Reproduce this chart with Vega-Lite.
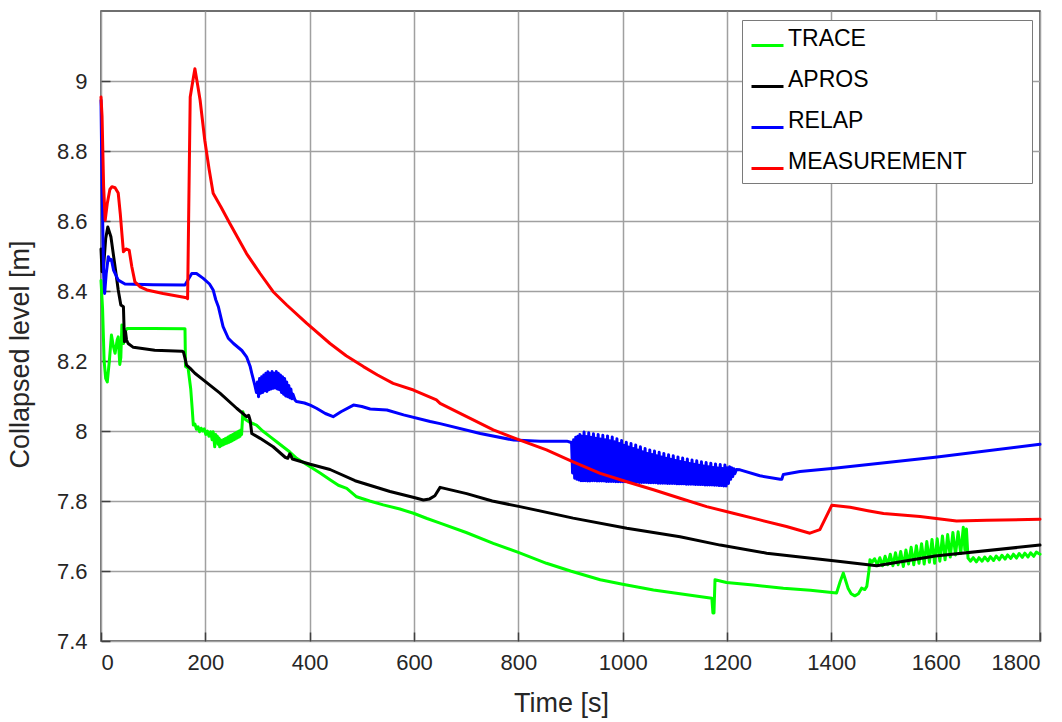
{
"$schema": "https://vega.github.io/schema/vega-lite/v6.json",
"width": 939, "height": 630,
"autosize": {"type": "none"},
"padding": {"left": 101, "top": 11, "right": 22, "bottom": 81},
"background": "white",
"config": {"font": "Liberation Sans", "view": {"stroke": "#404040", "strokeWidth": 1.5}},
"datasets": {
"trace": [
{"t":0,"v":8.43},{"t":3,"v":8.35},{"t":6,"v":8.2},{"t":9,"v":8.15},{"t":12,"v":8.14},{"t":16,"v":8.2},{"t":20,"v":8.274},{"t":24,"v":8.24},{"t":27,"v":8.222},{"t":31,"v":8.26},{"t":33,"v":8.269},{"t":36,"v":8.19},{"t":38,"v":8.21},{"t":40,"v":8.303},{"t":43,"v":8.25},{"t":46,"v":8.284},{"t":50,"v":8.293},{"t":100,"v":8.293},{"t":161,"v":8.292},{"t":162,"v":8.184},{"t":167,"v":8.179},{"t":172,"v":8.12},{"t":175,"v":8.06},{"t":177,"v":8.017},{"t":180,"v":8.02},{"t":183,"v":8.005},{"t":186,"v":8.012},{"t":189,"v":7.998},{"t":192,"v":8.008},{"t":195,"v":8.0},{"t":198,"v":8.006},{"t":201,"v":7.99},{"t":204,"v":8.0},{"t":207,"v":7.985},{"t":210,"v":7.998},{"t":213,"v":7.975},{"t":215,"v":7.998},{"t":218,"v":7.955},{"t":220,"v":7.99},{"t":221.5,"v":7.97},{"t":223,"v":7.985},{"t":224.5,"v":7.962},{"t":226,"v":7.98},{"t":227.5,"v":7.955},{"t":229,"v":7.975},{"t":230.5,"v":7.958},{"t":232,"v":7.972},{"t":233.5,"v":7.96},{"t":235,"v":7.976},{"t":236.5,"v":7.962},{"t":238,"v":7.978},{"t":239.5,"v":7.964},{"t":241,"v":7.98},{"t":242.5,"v":7.966},{"t":244,"v":7.983},{"t":245.5,"v":7.968},{"t":247,"v":7.986},{"t":248.5,"v":7.97},{"t":250,"v":7.988},{"t":251.5,"v":7.972},{"t":253,"v":7.99},{"t":254.5,"v":7.975},{"t":256,"v":7.993},{"t":257.5,"v":7.977},{"t":259,"v":7.995},{"t":260.5,"v":7.98},{"t":262,"v":7.998},{"t":263.5,"v":7.982},{"t":265,"v":8.0},{"t":266.5,"v":7.985},{"t":268,"v":8.003},{"t":269.5,"v":7.99},{"t":272,"v":8.055},{"t":275,"v":8.035},{"t":279,"v":8.031},{"t":285,"v":8.025},{"t":298,"v":8.017},{"t":310,"v":8.0},{"t":324,"v":7.984},{"t":336,"v":7.97},{"t":349,"v":7.955},{"t":362,"v":7.94},{"t":375,"v":7.922},{"t":388,"v":7.91},{"t":401,"v":7.898},{"t":420,"v":7.88},{"t":439,"v":7.861},{"t":455,"v":7.845},{"t":471,"v":7.836},{"t":490,"v":7.812},{"t":515,"v":7.8},{"t":541,"v":7.789},{"t":573,"v":7.777},{"t":599,"v":7.765},{"t":625,"v":7.75},{"t":650,"v":7.737},{"t":700,"v":7.71},{"t":752,"v":7.679},{"t":800,"v":7.653},{"t":854,"v":7.622},{"t":900,"v":7.6},{"t":957,"v":7.575},{"t":1000,"v":7.562},{"t":1059,"v":7.546},{"t":1120,"v":7.533},{"t":1171,"v":7.522},{"t":1173,"v":7.48},{"t":1175,"v":7.48},{"t":1177,"v":7.575},{"t":1199,"v":7.567},{"t":1250,"v":7.56},{"t":1308,"v":7.551},{"t":1360,"v":7.545},{"t":1410,"v":7.537},{"t":1417,"v":7.57},{"t":1423,"v":7.594},{"t":1428,"v":7.57},{"t":1432,"v":7.551},{"t":1438,"v":7.535},{"t":1445,"v":7.529},{"t":1452,"v":7.535},{"t":1458,"v":7.551},{"t":1464,"v":7.547},{"t":1468,"v":7.556},{"t":1472,"v":7.6},{"t":1474,"v":7.632},{"t":1478,"v":7.625},{"t":1483,"v":7.635},{"t":1488,"v":7.618},{"t":1493,"v":7.638},{"t":1498,"v":7.615},{"t":1503,"v":7.642},{"t":1508,"v":7.618},{"t":1513,"v":7.648},{"t":1518,"v":7.615},{"t":1523,"v":7.652},{"t":1528,"v":7.618},{"t":1533,"v":7.656},{"t":1538,"v":7.613},{"t":1543,"v":7.66},{"t":1548,"v":7.62},{"t":1553,"v":7.668},{"t":1558,"v":7.618},{"t":1563,"v":7.672},{"t":1568,"v":7.622},{"t":1573,"v":7.678},{"t":1578,"v":7.62},{"t":1583,"v":7.684},{"t":1588,"v":7.625},{"t":1593,"v":7.69},{"t":1598,"v":7.622},{"t":1603,"v":7.692},{"t":1608,"v":7.628},{"t":1613,"v":7.7},{"t":1618,"v":7.632},{"t":1623,"v":7.704},{"t":1628,"v":7.64},{"t":1633,"v":7.71},{"t":1638,"v":7.646},{"t":1643,"v":7.712},{"t":1648,"v":7.65},{"t":1653,"v":7.725},{"t":1656,"v":7.66},{"t":1659,"v":7.72},{"t":1662,"v":7.637},{"t":1667,"v":7.628},{"t":1672,"v":7.638},{"t":1678,"v":7.626},{"t":1683,"v":7.638},{"t":1689,"v":7.628},{"t":1694,"v":7.64},{"t":1700,"v":7.629},{"t":1705,"v":7.641},{"t":1711,"v":7.63},{"t":1716,"v":7.643},{"t":1722,"v":7.632},{"t":1727,"v":7.645},{"t":1733,"v":7.634},{"t":1738,"v":7.646},{"t":1744,"v":7.636},{"t":1749,"v":7.648},{"t":1755,"v":7.637},{"t":1760,"v":7.65},{"t":1766,"v":7.639},{"t":1771,"v":7.651},{"t":1777,"v":7.64},{"t":1782,"v":7.652},{"t":1788,"v":7.642},{"t":1793,"v":7.654},{"t":1800,"v":7.648}
],
"apros": [
{"t":0,"v":8.52},{"t":2,"v":8.455},{"t":5,"v":8.47},{"t":9,"v":8.55},{"t":13,"v":8.583},{"t":19,"v":8.555},{"t":27,"v":8.469},{"t":33,"v":8.403},{"t":38,"v":8.36},{"t":43,"v":8.355},{"t":45,"v":8.255},{"t":47,"v":8.284},{"t":49,"v":8.26},{"t":52,"v":8.25},{"t":62,"v":8.239},{"t":103,"v":8.231},{"t":155,"v":8.228},{"t":158,"v":8.226},{"t":161,"v":8.208},{"t":164,"v":8.188},{"t":171,"v":8.179},{"t":180,"v":8.165},{"t":196,"v":8.146},{"t":228,"v":8.108},{"t":260,"v":8.065},{"t":279,"v":8.041},{"t":283,"v":8.045},{"t":286,"v":8.03},{"t":289,"v":7.993},{"t":305,"v":7.979},{"t":330,"v":7.955},{"t":353,"v":7.925},{"t":358,"v":7.922},{"t":362,"v":7.935},{"t":367,"v":7.92},{"t":401,"v":7.905},{"t":439,"v":7.89},{"t":487,"v":7.858},{"t":554,"v":7.827},{"t":600,"v":7.81},{"t":618,"v":7.803},{"t":630,"v":7.806},{"t":640,"v":7.815},{"t":650,"v":7.839},{"t":701,"v":7.821},{"t":750,"v":7.8},{"t":803,"v":7.784},{"t":905,"v":7.751},{"t":1008,"v":7.722},{"t":1110,"v":7.698},{"t":1187,"v":7.674},{"t":1276,"v":7.651},{"t":1417,"v":7.627},{"t":1487,"v":7.615},{"t":1599,"v":7.643},{"t":1800,"v":7.674}
],
"relap": [
{"t":0,"v":8.945},{"t":2,"v":8.7},{"t":5,"v":8.45},{"t":7,"v":8.393},{"t":10,"v":8.45},{"t":14,"v":8.498},{"t":17,"v":8.488},{"t":20,"v":8.49},{"t":24,"v":8.46},{"t":33,"v":8.431},{"t":46,"v":8.42},{"t":100,"v":8.418},{"t":161,"v":8.417},{"t":168,"v":8.435},{"t":174,"v":8.45},{"t":183,"v":8.45},{"t":196,"v":8.436},{"t":208,"v":8.42},{"t":215,"v":8.403},{"t":220,"v":8.375},{"t":225,"v":8.355},{"t":234,"v":8.298},{"t":244,"v":8.265},{"t":254,"v":8.25},{"t":270,"v":8.23},{"t":279,"v":8.212},{"t":286,"v":8.184},{"t":289,"v":8.165},{"t":295,"v":8.13},{"t":298,"v":8.11},{"t":300,"v":8.14},{"t":302,"v":8.098},{"t":304,"v":8.15},{"t":306,"v":8.108},{"t":308,"v":8.155},{"t":310,"v":8.11},{"t":312,"v":8.16},{"t":314,"v":8.115},{"t":316,"v":8.165},{"t":318,"v":8.113},{"t":320,"v":8.169},{"t":322,"v":8.118},{"t":324,"v":8.165},{"t":326,"v":8.12},{"t":328,"v":8.17},{"t":330,"v":8.122},{"t":332,"v":8.165},{"t":334,"v":8.123},{"t":336,"v":8.17},{"t":338,"v":8.12},{"t":340,"v":8.165},{"t":342,"v":8.118},{"t":344,"v":8.16},{"t":346,"v":8.11},{"t":348,"v":8.155},{"t":350,"v":8.105},{"t":352,"v":8.15},{"t":354,"v":8.1},{"t":356,"v":8.14},{"t":358,"v":8.098},{"t":360,"v":8.13},{"t":362,"v":8.095},{"t":364,"v":8.12},{"t":366,"v":8.092},{"t":368,"v":8.105},{"t":372,"v":8.088},{"t":375,"v":8.084},{"t":390,"v":8.08},{"t":401,"v":8.074},{"t":413,"v":8.065},{"t":430,"v":8.05},{"t":445,"v":8.041},{"t":460,"v":8.055},{"t":484,"v":8.074},{"t":500,"v":8.07},{"t":516,"v":8.063},{"t":548,"v":8.06},{"t":580,"v":8.046},{"t":631,"v":8.027},{"t":650,"v":8.021},{"t":727,"v":7.993},{"t":791,"v":7.974},{"t":842,"v":7.971},{"t":893,"v":7.971},{"t":900,"v":7.968},
{"t":902,"v":7.968},{"t":904,"v":7.88},{"t":906,"v":7.975},{"t":908,"v":7.865},{"t":910,"v":7.982},{"t":912,"v":7.862},{"t":914,"v":7.985},{"t":916,"v":7.86},{"t":918,"v":7.99},{"t":920,"v":7.858},{"t":922,"v":7.985},{"t":924,"v":7.858},
{"t":926,"v":7.997},{"t":928.2,"v":7.858},{"t":930.5,"v":7.984},{"t":932.8,"v":7.857},
{"t":935,"v":7.995},{"t":937.2,"v":7.857},{"t":939.5,"v":7.982},{"t":941.8,"v":7.858},
{"t":944,"v":7.992},{"t":946.2,"v":7.858},{"t":948.5,"v":7.979},{"t":950.8,"v":7.857},
{"t":953,"v":7.99},{"t":955.2,"v":7.857},{"t":957.5,"v":7.977},{"t":959.8,"v":7.857},
{"t":962,"v":7.988},{"t":964.2,"v":7.857},{"t":966.5,"v":7.975},{"t":968.8,"v":7.856},
{"t":971,"v":7.986},{"t":973.2,"v":7.856},{"t":975.5,"v":7.972},{"t":977.8,"v":7.856},
{"t":980,"v":7.983},{"t":982.2,"v":7.856},{"t":984.5,"v":7.969},{"t":986.8,"v":7.855},
{"t":989,"v":7.978},{"t":991.2,"v":7.855},{"t":993.5,"v":7.964},{"t":995.8,"v":7.855},
{"t":998,"v":7.973},{"t":1000.2,"v":7.855},{"t":1002.5,"v":7.959},{"t":1004.8,"v":7.855},
{"t":1007,"v":7.968},{"t":1009.2,"v":7.855},{"t":1011.5,"v":7.954},{"t":1013.8,"v":7.854},
{"t":1016,"v":7.964},{"t":1018.2,"v":7.854},{"t":1020.5,"v":7.95},{"t":1022.8,"v":7.854},
{"t":1025,"v":7.96},{"t":1027.2,"v":7.854},{"t":1029.5,"v":7.946},{"t":1031.8,"v":7.853},
{"t":1034,"v":7.955},{"t":1036.2,"v":7.853},{"t":1038.5,"v":7.941},{"t":1040.8,"v":7.853},
{"t":1043,"v":7.95},{"t":1045.2,"v":7.853},{"t":1047.5,"v":7.936},{"t":1049.8,"v":7.852},
{"t":1052,"v":7.946},{"t":1054.2,"v":7.852},{"t":1056.5,"v":7.933},{"t":1058.8,"v":7.852},
{"t":1061,"v":7.943},{"t":1063.2,"v":7.852},{"t":1065.5,"v":7.929},{"t":1067.8,"v":7.851},
{"t":1070,"v":7.939},{"t":1072.2,"v":7.851},{"t":1074.5,"v":7.926},{"t":1076.8,"v":7.851},
{"t":1079,"v":7.936},{"t":1081.2,"v":7.851},{"t":1083.5,"v":7.922},{"t":1085.8,"v":7.85},
{"t":1088,"v":7.932},{"t":1090.2,"v":7.85},{"t":1092.5,"v":7.919},{"t":1094.8,"v":7.85},
{"t":1097,"v":7.929},{"t":1099.2,"v":7.85},{"t":1101.5,"v":7.916},{"t":1103.8,"v":7.849},
{"t":1106,"v":7.926},{"t":1108.2,"v":7.849},{"t":1110.5,"v":7.913},{"t":1112.8,"v":7.849},
{"t":1115,"v":7.923},{"t":1117.2,"v":7.849},{"t":1119.5,"v":7.91},{"t":1121.8,"v":7.848},
{"t":1124,"v":7.92},{"t":1126.2,"v":7.848},{"t":1128.5,"v":7.907},{"t":1130.8,"v":7.848},
{"t":1133,"v":7.917},{"t":1135.2,"v":7.848},{"t":1137.5,"v":7.905},{"t":1139.8,"v":7.847},
{"t":1142,"v":7.915},{"t":1144.2,"v":7.847},{"t":1146.5,"v":7.902},{"t":1148.8,"v":7.847},
{"t":1151,"v":7.912},{"t":1153.2,"v":7.847},{"t":1155.5,"v":7.9},{"t":1157.8,"v":7.846},
{"t":1160,"v":7.91},{"t":1162.2,"v":7.846},{"t":1164.5,"v":7.898},{"t":1166.8,"v":7.846},
{"t":1169,"v":7.908},{"t":1171.2,"v":7.846},{"t":1173.5,"v":7.896},{"t":1175.8,"v":7.845},
{"t":1178,"v":7.906},{"t":1180.2,"v":7.845},{"t":1182.5,"v":7.894},{"t":1184.8,"v":7.844},
{"t":1187,"v":7.904},{"t":1189.2,"v":7.844},{"t":1191.5,"v":7.893},{"t":1193.8,"v":7.843},
{"t":1196,"v":7.903},{"t":1198.2,"v":7.843},{"t":1200.5,"v":7.895},{"t":1202.8,"v":7.85},
{"t":1205,"v":7.898},{"t":1207,"v":7.862},{"t":1209,"v":7.895},{"t":1211,"v":7.87},{"t":1213,"v":7.892},{"t":1215,"v":7.878},{"t":1218,"v":7.89},{"t":1225,"v":7.889},{"t":1263,"v":7.872},{"t":1302,"v":7.862},{"t":1305,"v":7.862},{"t":1308,"v":7.876},{"t":1340,"v":7.884},{"t":1401,"v":7.893},{"t":1599,"v":7.925},{"t":1800,"v":7.962}
],
"meas": [
{"t":0,"v":8.954},{"t":2,"v":8.9},{"t":5,"v":8.7},{"t":8,"v":8.602},{"t":12,"v":8.65},{"t":17,"v":8.69},{"t":21,"v":8.698},{"t":27,"v":8.695},{"t":33,"v":8.68},{"t":37,"v":8.62},{"t":40,"v":8.565},{"t":43,"v":8.512},{"t":48,"v":8.52},{"t":54,"v":8.517},{"t":59,"v":8.47},{"t":65,"v":8.426},{"t":75,"v":8.412},{"t":88,"v":8.403},{"t":119,"v":8.393},{"t":164,"v":8.381},{"t":166,"v":8.378},{"t":171,"v":8.954},{"t":176,"v":9.0},{"t":180,"v":9.035},{"t":184,"v":9.0},{"t":190,"v":8.945},{"t":199,"v":8.83},{"t":207,"v":8.75},{"t":215,"v":8.679},{"t":230,"v":8.64},{"t":247,"v":8.593},{"t":263,"v":8.55},{"t":279,"v":8.507},{"t":305,"v":8.45},{"t":330,"v":8.398},{"t":356,"v":8.36},{"t":394,"v":8.308},{"t":439,"v":8.25},{"t":470,"v":8.215},{"t":503,"v":8.184},{"t":530,"v":8.16},{"t":560,"v":8.136},{"t":599,"v":8.117},{"t":643,"v":8.089},{"t":650,"v":8.079},{"t":701,"v":8.041},{"t":752,"v":8.003},{"t":803,"v":7.974},{"t":854,"v":7.946},{"t":905,"v":7.912},{"t":957,"v":7.879},{"t":1008,"v":7.855},{"t":1059,"v":7.832},{"t":1110,"v":7.808},{"t":1161,"v":7.784},{"t":1212,"v":7.765},{"t":1263,"v":7.746},{"t":1314,"v":7.727},{"t":1359,"v":7.708},{"t":1378,"v":7.718},{"t":1401,"v":7.788},{"t":1436,"v":7.782},{"t":1470,"v":7.772},{"t":1500,"v":7.764},{"t":1570,"v":7.756},{"t":1640,"v":7.743},{"t":1698,"v":7.745},{"t":1800,"v":7.748}
]
},
"encoding": {
"x": {"field": "t", "type": "quantitative", "scale": {"domain": [0, 1800], "nice": false, "zero": false},
 "axis": {"title": "Time [s]", "values": [0,200,400,600,800,1000,1200,1400,1600,1800], "format": "d", "domain": false, "grid": true, "gridColor": "#a0a0a0", "gridWidth": 1.5, "tickColor": "#404040", "tickWidth": 1.5, "tickSize": -9, "labelPadding": 20, "labelFontSize": 22, "labelColor": "#262626", "titleFontSize": 27, "titleFontWeight": "normal", "titleColor": "#262626", "titlePadding": 17, "titleX": 460}},
"y": {"field": "v", "type": "quantitative", "scale": {"domain": [7.4, 9.2], "nice": false, "zero": false},
 "axis": {"title": "Collapsed level [m]", "values": [7.4,7.6,7.8,8,8.2,8.4,8.6,8.8,9], "format": ".1~f", "domain": false, "grid": true, "gridColor": "#a0a0a0", "gridWidth": 1.5, "tickColor": "#404040", "tickWidth": 1.5, "tickSize": -9, "labelPadding": 23, "labelFontSize": 22, "labelColor": "#262626", "titleFontSize": 27, "titleFontWeight": "normal", "titleColor": "#262626", "titlePadding": 22, "titleY": 343}},
"color": {"field": "s", "type": "nominal",
 "scale": {"domain": ["TRACE", "APROS", "RELAP", "MEASUREMENT"], "range": ["#00ff00", "#000000", "#0000ff", "#ff0000"]},
 "legend": {"orient": "none", "legendX": 641, "legendY": 9, "title": "\u00a0", "titleOrient": "right", "titleFontSize": 2, "titlePadding": 57, "symbolType": "stroke", "symbolSize": 1024, "symbolStrokeWidth": 3, "labelFontSize": 23, "labelLimit": 400, "labelColor": "#000000", "labelOffset": 3, "labelBaseline": "alphabetic", "rowPadding": 16, "padding": 8, "strokeColor": "#7a7a7a", "fillColor": "white", "cornerRadius": 0}}
},
"layer": [
{"data": {"name": "trace"}, "transform": [{"calculate": "'TRACE'", "as": "s"}], "mark": {"type": "line", "strokeWidth": 3, "strokeJoin": "round", "strokeCap": "round"}},
{"data": {"name": "apros"}, "transform": [{"calculate": "'APROS'", "as": "s"}], "mark": {"type": "line", "strokeWidth": 3, "strokeJoin": "round", "strokeCap": "round"}},
{"data": {"name": "relap"}, "transform": [{"calculate": "'RELAP'", "as": "s"}], "mark": {"type": "line", "strokeWidth": 3, "strokeJoin": "round", "strokeCap": "round"}},
{"data": {"name": "meas"}, "transform": [{"calculate": "'MEASUREMENT'", "as": "s"}], "mark": {"type": "line", "strokeWidth": 3, "strokeJoin": "round", "strokeCap": "round"}}
]
}
